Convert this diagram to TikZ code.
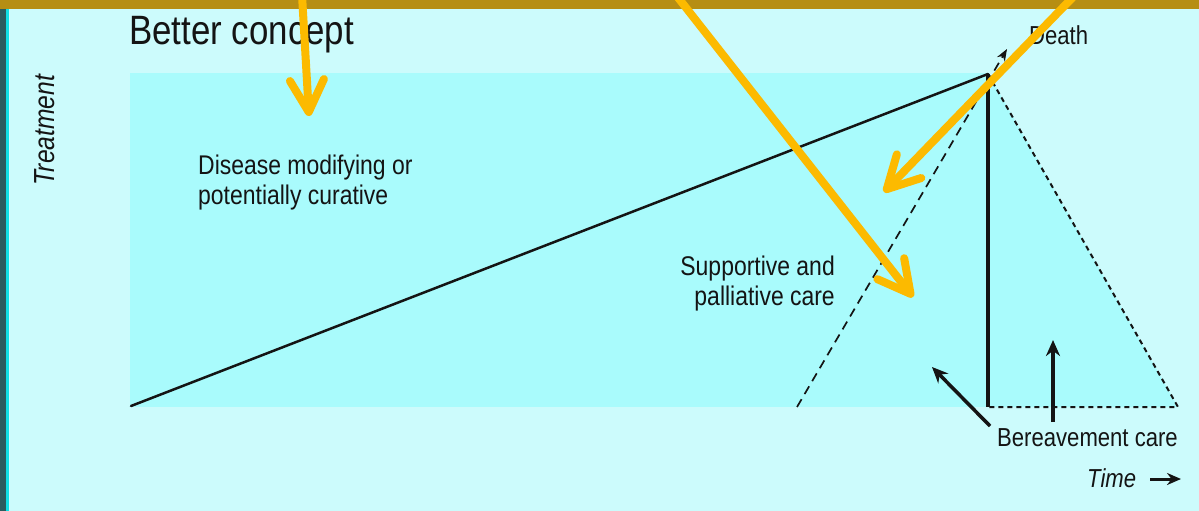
\documentclass[tikz,border=0pt]{standalone}
\usepackage{fontspec}
\setmainfont{Liberation Sans}[FakeStretch=0.85]
\usetikzlibrary{arrows.meta}
\definecolor{bgc}{HTML}{CCFBFC}
\definecolor{fillc}{HTML}{A9FBFC}
\definecolor{goldbar}{HTML}{B68E14}
\definecolor{yel}{HTML}{FCBA00}
\definecolor{darkstrip}{HTML}{2A5C5E}
\definecolor{cyanstrip}{HTML}{10E0E4}
\definecolor{ink}{HTML}{141414}
\tikzset{
  lbl/.style={inner sep=0pt, text=ink, font=\fontsize{27}{30}\selectfont},
  blackarrow/.style={draw=ink, line width=3.5pt, -{Stealth[length=16pt,width=14pt]}},
  yelarrow/.style={draw=yel, line width=8pt, line cap=round, -{Straight Barb[length=32pt,width=34pt,round]}},
  dashA/.style={draw=ink, line width=1.7pt, dash pattern=on 9pt off 6pt},
  dashB/.style={draw=ink, line width=2pt, dash pattern=on 5pt off 4pt},
}
\begin{document}
\begin{tikzpicture}[x=1pt,y=-1pt]
\useasboundingbox (0,0) rectangle (1199,511);
% background
\fill[bgc] (0,0) rectangle (1199,511);
\fill[darkstrip] (0,0) rectangle (6,511);
\fill[cyanstrip] (6,0) rectangle (8.5,511);
\fill[goldbar] (0,0) rectangle (1199,9);
% filled regions
\coordinate (tl) at (130,73);
\coordinate (peak) at (988,74);
\coordinate (bl) at (131,406);
\coordinate (vbase) at (988,407);
\coordinate (tri) at (1178,407);
\coordinate (dstart) at (797,407);
\coordinate (dtip) at (1007,49);
\fill[fillc] (tl) rectangle (vbase);
\fill[fillc] (988,73) -- (tri) -- (vbase) -- cycle;
% lines
\draw[ink, line width=2.5pt, line cap=round] (bl) -- (peak);
\draw[ink, line width=3.5pt] (peak) -- (vbase);
\draw[dashA, -{Stealth[length=12pt,width=9pt]}] (dstart) -- (dtip);
\draw[dashB] (peak) -- (tri) -- (vbase);
% texts
\node[lbl, font=\fontsize{41}{44}\selectfont, anchor=base west] (title) at (129,45) {Better concept};
\node[lbl, rotate=90, font=\fontsize{29}{30}\itshape] (treat) at (45,130) {Treatment};
\node[lbl, anchor=north west, align=left] (dis) at (198,155) {Disease modifying or\\potentially curative};
\node[lbl, anchor=north east, align=right] (supp) at (835,256) {Supportive and\\palliative care};
\node[lbl, font=\fontsize{26}{28}\selectfont, anchor=base west] (death) at (1029,45) {Death};
\node[lbl, font=\fontsize{26}{28}\selectfont, anchor=base west] (ber) at (997,446) {Bereavement care};
\node[lbl, font=\fontsize{26}{28}\itshape, anchor=base west] (time) at (1087,487) {Time};
% black arrows
\coordinate (b1s) at (990,426);
\coordinate (b1e) at (932,367);
\coordinate (b2s) at (1053,422);
\coordinate (b2e) at (1053,340);
\draw[blackarrow] (b1s) -- (b1e);
\draw[blackarrow] (b2s) -- (b2e);
\coordinate (tas) at (1150,479);
\coordinate (ta) at (1181,479);
\draw[ink, line width=3pt, -{Stealth[length=14pt,width=12pt]}] (tas) -- (ta);
% yellow annotation arrows
\coordinate (y1s) at (302,-5);
\coordinate (y1e) at (309,116);
\coordinate (y2s) at (676,-5);
\coordinate (y2e) at (913,297);
\coordinate (y3s) at (1075,-5);
\coordinate (y3e) at (884,192);
\draw[yelarrow] (y1s) -- (y1e);
\draw[yelarrow] (y2s) -- (y2e);
\draw[yelarrow] (y3s) -- (y3e);
\end{tikzpicture}
\end{document}
